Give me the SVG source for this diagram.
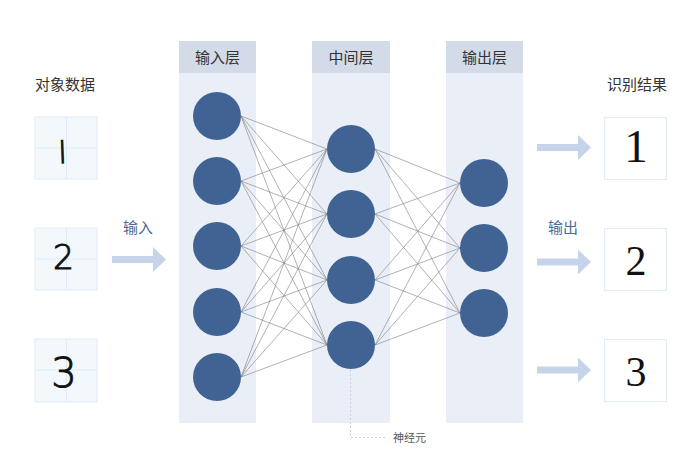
<svg xmlns="http://www.w3.org/2000/svg" width="700" height="455" viewBox="0 0 700 455">
<defs>
<style>
.hdr{fill:#D3DBE9}
.body{fill:#EAEFF7}
.n{fill:#416394}
.lbl{font-family:"Noto Sans CJK SC","Noto Sans",sans-serif;font-size:15px;fill:#333}
.ht{font-family:"Noto Sans CJK SC","Noto Sans",sans-serif;font-size:15px;fill:#333;text-anchor:middle}
.blue{font-family:"Noto Sans CJK SC","Noto Sans",sans-serif;font-size:15px;fill:#4C6A98}
.dbox{fill:#F3F8FD;stroke:#E1EBF6;stroke-width:1}
.grid{stroke:#E1EBF6;stroke-width:1}
.rbox{fill:#FFFFFF;stroke:#E3EBF4;stroke-width:1}
.hw{font-family:"DejaVu Sans",sans-serif;font-weight:200;fill:#111;stroke:#111;stroke-width:1;text-anchor:middle}
.res{font-family:"Liberation Serif",serif;fill:#111;text-anchor:middle}
.arr{fill:#C6D4EA}
.c line{stroke:#7E7E7E;stroke-width:0.6}
</style>
</defs>
<rect width="700" height="455" fill="#FFFFFF"/>

<!-- left data -->
<g id="data">
<text class="lbl" x="35" y="89.5">对象数据</text>
<rect class="dbox" x="35" y="117" width="62" height="62"/>
<line class="grid" x1="66.5" y1="117" x2="66.5" y2="179"/><line class="grid" x1="35" y1="148" x2="97" y2="148"/>
<text class="hw" x="62.5" y="163" font-size="30" transform="rotate(-2 62.5 151)">l</text>
<rect class="dbox" x="35" y="228" width="62" height="62"/>
<line class="grid" x1="66.5" y1="228" x2="66.5" y2="290"/><line class="grid" x1="35" y1="259" x2="97" y2="259"/>
<text class="hw" x="63.5" y="269" font-size="33">2</text>
<rect class="dbox" x="35" y="339" width="62" height="63"/>
<line class="grid" x1="66.5" y1="339" x2="66.5" y2="402"/><line class="grid" x1="35" y1="370" x2="97" y2="370"/>
<text class="hw" x="64" y="387" font-size="40">3</text>
</g>

<g id="input-arrow">
<text class="blue" x="123" y="233">输入</text>
<polygon class="arr" points="112,256 153,256 153,247 166,259.5 153,272 153,263 112,263"/>
</g>

<!-- layers -->
<g id="layer-input">
<rect class="body" x="179" y="73" width="77" height="350"/>
<rect class="hdr" x="179" y="41" width="77" height="32"/>
<text class="ht" x="217.5" y="62.5">输入层</text>
</g>
<g id="layer-middle">
<rect class="body" x="312" y="73" width="78" height="350"/>
<rect class="hdr" x="312" y="41" width="78" height="32"/>
<text class="ht" x="351" y="62.5">中间层</text>
</g>
<g id="layer-output">
<rect class="body" x="446" y="73" width="77" height="350"/>
<rect class="hdr" x="446" y="41" width="77" height="32"/>
<text class="ht" x="484.5" y="62.5">输出层</text>
</g>

<!-- connectors -->
<g id="connectors" class="c">
<line x1="241" y1="116" x2="327" y2="149"/><line x1="241" y1="116" x2="327" y2="214"/><line x1="241" y1="116" x2="327" y2="280"/><line x1="241" y1="116" x2="327" y2="345"/>
<line x1="241" y1="181" x2="327" y2="149"/><line x1="241" y1="181" x2="327" y2="214"/><line x1="241" y1="181" x2="327" y2="280"/><line x1="241" y1="181" x2="327" y2="345"/>
<line x1="241" y1="246" x2="327" y2="149"/><line x1="241" y1="246" x2="327" y2="214"/><line x1="241" y1="246" x2="327" y2="280"/><line x1="241" y1="246" x2="327" y2="345"/>
<line x1="241" y1="312" x2="327" y2="149"/><line x1="241" y1="312" x2="327" y2="214"/><line x1="241" y1="312" x2="327" y2="280"/><line x1="241" y1="312" x2="327" y2="345"/>
<line x1="241" y1="377" x2="327" y2="149"/><line x1="241" y1="377" x2="327" y2="214"/><line x1="241" y1="377" x2="327" y2="280"/><line x1="241" y1="377" x2="327" y2="345"/>
<line x1="375" y1="149" x2="460" y2="183"/><line x1="375" y1="149" x2="460" y2="248"/><line x1="375" y1="149" x2="460" y2="313"/>
<line x1="375" y1="214" x2="460" y2="183"/><line x1="375" y1="214" x2="460" y2="248"/><line x1="375" y1="214" x2="460" y2="313"/>
<line x1="375" y1="280" x2="460" y2="183"/><line x1="375" y1="280" x2="460" y2="248"/><line x1="375" y1="280" x2="460" y2="313"/>
<line x1="375" y1="345" x2="460" y2="183"/><line x1="375" y1="345" x2="460" y2="248"/><line x1="375" y1="345" x2="460" y2="313"/>
</g>

<g id="nodes-input">
<circle id="i1" class="n" cx="217" cy="116" r="24"/>
<circle id="i2" class="n" cx="217" cy="181" r="24"/>
<circle id="i3" class="n" cx="217" cy="246" r="24"/>
<circle id="i4" class="n" cx="217" cy="312" r="24"/>
<circle id="i5" class="n" cx="217" cy="377" r="24"/>
</g>
<g id="nodes-middle">
<circle id="m1" class="n" cx="351" cy="149" r="24"/>
<circle id="m2" class="n" cx="351" cy="214" r="24"/>
<circle id="m3" class="n" cx="351" cy="280" r="24"/>
<circle id="m4" class="n" cx="351" cy="345" r="24"/>
</g>
<g id="nodes-output">
<circle id="o1" class="n" cx="484" cy="183" r="24"/>
<circle id="o2" class="n" cx="484" cy="248" r="24"/>
<circle id="o3" class="n" cx="484" cy="313" r="24"/>
</g>

<g id="neuron-label">
<polyline points="350.5,370 350.5,437.5 387,437.5" fill="none" stroke="#CDD3DC" stroke-width="1" stroke-dasharray="2,2"/>
<text x="393" y="442" font-family="'Noto Sans CJK SC','Noto Sans',sans-serif" font-size="11" fill="#555">神经元</text>
</g>

<g id="output-arrows">
<text class="blue" x="548" y="233">输出</text>
<polygon class="arr" points="537,144 578,144 578,135 591,147.5 578,160 578,151 537,151"/>
<polygon class="arr" points="537,258.5 578,258.5 578,249.5 591,262 578,274.5 578,265.5 537,265.5"/>
<polygon class="arr" points="537,366.5 578,366.5 578,357.5 591,370 578,382.5 578,373.5 537,373.5"/>
</g>

<g id="results">
<text class="lbl" x="607" y="89.5">识别结果</text>
<rect class="rbox" x="604.5" y="117.5" width="62" height="62"/>
<text class="res" x="636" y="162" font-size="47">1</text>
<rect class="rbox" x="604.5" y="228.5" width="62" height="62"/>
<text class="res" x="636" y="275" font-size="42">2</text>
<rect class="rbox" x="604.5" y="339.5" width="62" height="62"/>
<text class="res" x="636" y="386" font-size="42">3</text>
</g>
</svg>
